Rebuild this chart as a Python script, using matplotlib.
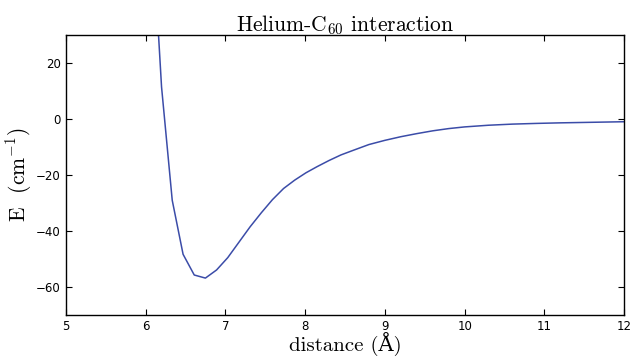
import matplotlib
matplotlib.use("Agg")
import matplotlib.pyplot as plt

# distance (Angstrom) and interaction energy (cm^-1)
distancia = [6.06, 6.20, 6.334, 6.47, 6.61, 6.75, 6.89, 7.03, 7.17, 7.31, 7.45,
             7.59, 7.73, 7.87, 8.01, 8.15, 8.30, 8.45, 8.60, 8.80, 9.00, 9.20,
             9.40, 9.60, 9.80, 10.0, 10.3, 10.6, 10.9, 11.2, 11.5, 11.8, 12.0]
energia = [80, 11.5, -29.0, -48.3, -55.7, -56.8, -53.9, -49.5, -44.0, -38.5, -33.5,
           -28.8, -24.8, -21.8, -19.2, -17.0, -14.8, -12.8, -11.2, -9.1, -7.6, -6.3,
           -5.2, -4.2, -3.4, -2.8, -2.2, -1.8, -1.55, -1.35, -1.2, -1.05, -0.95]

x_ticks = [5, 6, 7, 8, 9, 10, 11, 12]
y_ticks = [-60, -40, -20, 0, 20]

plt.rcParams['mathtext.fontset'] = 'cm'
serif = ['cmr10', 'DejaVu Serif']

fig = plt.figure(figsize=(6.33, 3.58), dpi=100)
ax = fig.add_axes([0.104, 0.120, 0.882, 0.782])

ax.plot(distancia, energia, color='#3b4ca8', linewidth=1.1)

ax.set_xlim(5, 12)
ax.set_ylim(-70, 30)
ax.set_xticks(x_ticks)
ax.set_yticks(y_ticks)
ax.tick_params(direction='in', top=True, right=True, labelsize=8.5, length=4, width=0.8)
for s in ax.spines.values():
    s.set_linewidth(1.0)

ax.set_title('Helium-C$_{60}$ interaction', fontsize=15.5, family=serif, pad=3)
ax.set_xlabel('distance (Å)', fontsize=15, family=serif, va='center')
ax.xaxis.set_label_coords(0.5, -0.102)
ax.set_ylabel('E  (cm$^{-1}$)', fontsize=15.5, family=serif, va='center')
ax.yaxis.set_label_coords(-0.083, 0.5)

fig.savefig("out.png", dpi=100)
